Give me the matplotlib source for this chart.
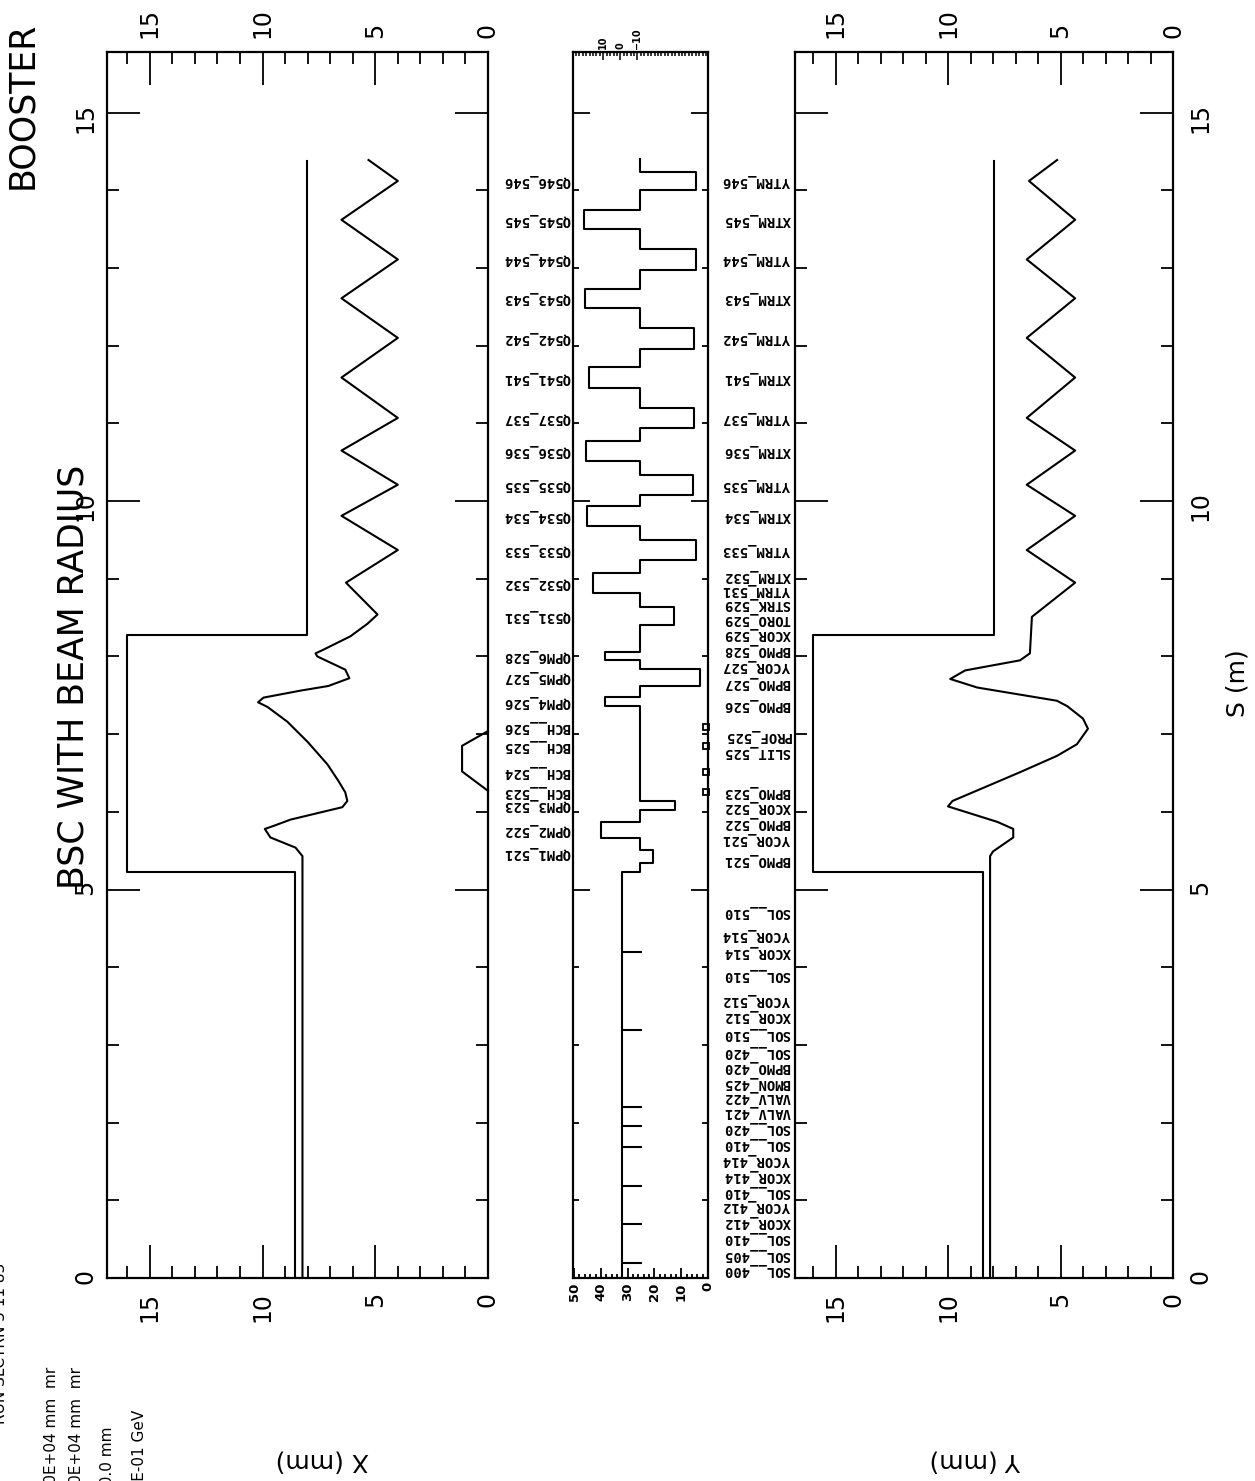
import matplotlib
matplotlib.use("Agg")
import matplotlib.pyplot as plt
from matplotlib.ticker import MultipleLocator, FixedLocator

W, H = 1255, 1481

# ---- data (S in m, sizes in mm) ----
# beam stay clear (aperture)
ap_s = [0.0, 5.22, 5.22, 8.27, 8.27, 14.38]
ap_x = [8.55, 8.55, 16.0, 16.0, 8.05, 8.05]
ap_y = [8.44, 8.44, 16.0, 16.0, 7.95, 7.95]

# beam radius in X
bx_s = [0.0, 5.43, 5.54, 5.67, 5.78, 5.82, 5.90, 6.06, 6.14, 6.25, 6.40, 6.61,
        6.90, 7.16, 7.35, 7.41, 7.47, 7.56, 7.62, 7.72, 7.83, 8.00, 8.04, 8.08,
        8.26, 8.42, 8.54, 8.95, 9.37, 9.81, 10.21, 10.65, 11.07, 11.59, 12.10,
        12.61, 13.11, 13.62, 14.12, 14.39]
bx_v = [8.23, 8.23, 8.54, 9.65, 9.90, 9.50, 8.76, 6.46, 6.24, 6.33, 6.64, 7.12,
        8.00, 8.90, 9.78, 10.2, 9.96, 8.32, 7.08, 6.15, 6.33, 7.57, 7.65, 7.35,
        6.10, 5.35, 4.90, 6.30, 4.00, 6.50, 4.00, 6.50, 4.00, 6.50, 4.00,
        6.50, 4.00, 6.50, 4.00, 5.30]

# beam radius in Y
by_s = [0.0, 5.43, 5.49, 5.67, 5.78, 5.87, 6.07, 6.14, 6.51, 6.72, 6.87, 7.07,
        7.20, 7.36, 7.43, 7.60, 7.71, 7.82, 7.95, 8.04, 8.51, 8.95, 9.37, 9.81,
        10.21, 10.65, 11.07, 11.59, 12.10, 12.61, 13.11, 13.62, 14.12, 14.39]
by_v = [8.13, 8.13, 8.00, 7.10, 7.10, 7.80, 10.0, 9.80, 6.80, 5.16, 4.27, 3.78,
        4.00, 4.70, 5.16, 8.70, 9.90, 9.24, 6.80, 6.36, 6.27, 4.35, 6.50, 4.35,
        6.50, 4.35, 6.50, 4.35, 6.50, 4.35, 6.50, 4.35, 6.40, 5.15]

# chicane orbit bump in X
orb_s = [6.27, 6.52, 6.85, 7.04]
orb_x = [0.0, 1.15, 1.15, 0.0]

# element profile in middle panel (edges along S, value of each interval)
el_edges = [0.0, 5.22, 5.34, 5.51, 5.66, 5.87, 6.03, 6.14, 7.36, 7.48, 7.62,
            7.84, 7.96, 8.06, 8.40, 8.64, 8.82, 9.07, 9.24, 9.50, 9.68, 9.94,
            10.08, 10.34, 10.52, 10.77, 10.94, 11.20, 11.46, 11.72, 11.96,
            12.23, 12.49, 12.73, 12.98, 13.24, 13.50, 13.75, 14.00, 14.24, 14.40]
el_vals = [32.1, 25.3, 20.4, 25.3, 39.9, 25.3, 12.4, 25.3, 38.5, 25.3, 3.0,
           25.3, 38.5, 25.3, 12.8, 25.3, 43.0, 25.3, 4.5, 25.3, 45.3, 25.3,
           5.7, 25.3, 45.7, 25.3, 5.3, 25.3, 44.3, 25.3, 5.3, 25.3, 46.0, 25.3,
           4.5, 25.3, 46.4, 25.3, 4.5, 25.3]
thin_s = [0.19, 0.70, 1.19, 1.69, 1.95, 2.20, 3.19, 4.20]
bch_s = [6.25, 6.51, 6.85, 7.09]

left_names = ["Q546_546", "Q545_545", "Q544_544", "Q543_543", "Q542_542",
              "Q541_541", "Q537_537", "Q536_536", "Q535_535", "Q534_534",
              "Q533_533", "Q532_532", "Q531_531", "QPM6_528", "QPM5_527",
              "QPM4_526", "BCH__526", "BCH__525", "BCH__524", "BCH__523",
              "QPM3_523", "QPM2_522", "QPM1_521"]
left_s = [14.12, 13.62, 13.11, 12.61, 12.10, 11.59, 11.07, 10.65, 10.21, 9.81,
          9.37, 8.95, 8.52, 8.01, 7.73, 7.42, 7.09, 6.85, 6.51, 6.25, 6.09,
          5.77, 5.47]

right_names = ["YTRM_546", "XTRM_545", "YTRM_544", "XTRM_543", "YTRM_542",
               "XTRM_541", "YTRM_537", "XTRM_536", "YTRM_535", "XTRM_534",
               "YTRM_533", "XTRM_532", "YTRM_531", "STRK_529", "TORO_529",
               "XCOR_529", "BPMO_528", "YCOR_527", "BPMO_527", "BPMO_526",
               "PROF_525", "SLIT_525", "BPMO_523", "XCOR_522", "BPMO_522",
               "YCOR_521", "BPMO_521",
               "SOL__510", "YCOR_514", "XCOR_514", "SOL__510", "YCOR_512",
               "XCOR_512", "SOL__510", "SOL__420", "BPMO_420", "BMON_425",
               "VALV_422", "VALV_421", "SOL__420", "SOL__410", "YCOR_414",
               "XCOR_414", "SOL__410", "YCOR_412", "XCOR_412", "SOL__410",
               "SOL__405", "SOL__400"]
right_s = [14.12, 13.62, 13.11, 12.61, 12.10, 11.59, 11.07, 10.65, 10.21, 9.81,
           9.37, 9.04, 8.86, 8.67, 8.48, 8.29, 8.08, 7.88, 7.66, 7.38,
           6.98, 6.77, 6.26, 6.06, 5.85, 5.65, 5.38,
           4.71, 4.41, 4.20, 3.90, 3.58, 3.37, 3.14, 2.91, 2.72, 2.51,
           2.33, 2.14, 1.93, 1.72, 1.52, 1.31, 1.11, 0.93, 0.72, 0.51,
           0.30, 0.10]

S_MAX = 15.78
LW = 1.5


def rect(x0, y0, x1, y1):
    return [x0 / W, 1 - y1 / H, (x1 - x0) / W, (y1 - y0) / H]


def ftext(x, y, s, **kw):
    fig.text(x / W, 1 - y / H, s, **kw)


fig = plt.figure(figsize=(W / 100, H / 100), dpi=100)

axL = fig.add_axes(rect(107, 52, 488, 1278))
axM = fig.add_axes(rect(573, 52, 708, 1278))
axR = fig.add_axes(rect(795, 52, 1173, 1278))

for ax, xmax in [(axL, 16.9), (axR, 16.8)]:
    ax.set_xlim(xmax, 0)
    ax.set_ylim(0, S_MAX)
    ax.xaxis.set_major_locator(MultipleLocator(5))
    ax.xaxis.set_minor_locator(MultipleLocator(1))
    ax.yaxis.set_major_locator(MultipleLocator(5))
    ax.yaxis.set_minor_locator(MultipleLocator(1))
    ax.tick_params(which="both", direction="in", top=True, bottom=True,
                   left=True, right=True, width=1.3, labelsize=17)
    ax.tick_params(which="major", length=24)
    ax.tick_params(which="minor", length=8.5)
    ax.tick_params(axis="x", labeltop=True, labelbottom=True,
                   labelrotation=90, pad=10)
    for sp in ax.spines.values():
        sp.set_linewidth(1.6)

axL.tick_params(axis="y", labelleft=True, labelright=False, labelrotation=90, pad=7)
axR.tick_params(axis="y", labelleft=False, labelright=True, labelrotation=90, pad=11)

axL.plot(ap_x, ap_s, color="black", lw=LW)
axL.plot(bx_v, bx_s, color="black", lw=LW)
axL.plot(orb_x, orb_s, color="black", lw=LW, clip_on=False)
axR.plot(ap_y, ap_s, color="black", lw=LW)
axR.plot(by_v, by_s, color="black", lw=LW)

# middle panel: element profile
axM.set_xlim(50.4, 0)
axM.set_ylim(0, S_MAX)
px, py = [], []
for i, v in enumerate(el_vals):
    px += [v, v]
    py += [el_edges[i], el_edges[i + 1]]
axM.plot(px, py, color="black", lw=LW)
axM.hlines(thin_s, 24.5, 32.1, color="black", lw=LW)
axM.plot([0.9] * len(bch_s), bch_s, "s", ms=5, mfc="white", mec="black",
         mew=1.3, clip_on=False)
axM.xaxis.set_major_locator(MultipleLocator(10))
axM.xaxis.set_minor_locator(MultipleLocator(2))
axM.yaxis.set_major_locator(MultipleLocator(5))
axM.yaxis.set_minor_locator(MultipleLocator(1))
axM.tick_params(which="both", direction="in", left=True, right=True,
                bottom=True, top=False, width=1.3)
axM.tick_params(axis="y", which="major", length=12, labelleft=False)
axM.tick_params(axis="y", which="minor", length=4)
axM.tick_params(axis="x", which="major", length=7, labelsize=9.5,
                labelrotation=90, pad=3)
axM.tick_params(axis="x", which="minor", length=3)
for lab in axM.get_xticklabels():
    lab.set_fontweight("bold")
for sp in axM.spines.values():
    sp.set_linewidth(1.6)

sec = axM.secondary_xaxis("top", functions=(lambda v: -51.2 + 1.565 * v,
                                             lambda t: (t + 51.2) / 1.565))
sec.xaxis.set_major_locator(FixedLocator([10, 0, -10]))
sec.xaxis.set_minor_locator(MultipleLocator(2))
sec.tick_params(which="both", direction="in", width=1.1, labelsize=7,
                labelrotation=90, pad=2)
sec.tick_params(which="major", length=6)
sec.tick_params(which="minor", length=3)
for lab in sec.get_xticklabels():
    lab.set_fontweight("bold")

# element names (drawn upside down, as on the rotated page)
lab_kw = dict(rotation=180, rotation_mode="anchor", ha="left", va="center",
              family="DejaVu Sans Mono", fontweight="bold", fontsize=10)
for name, s in zip(left_names, left_s):
    axM.text(-0.02, s, name, transform=axM.get_yaxis_transform(), **lab_kw)
for name, s in zip(right_names, right_s):
    axR.text(-0.012, s, name, transform=axR.get_yaxis_transform(), **lab_kw)

# page texts
ftext(74, 677, "BSC WITH BEAM RADIUS", rotation=90, ha="center", va="center",
      fontsize=25)
ftext(22, 105, "BOOSTER", rotation=90, ha="center", va="center", fontsize=25)
ftext(322, 1461, "X (mm)", rotation=180, ha="center", va="center", fontsize=18)
ftext(975, 1461, "Y (mm)", rotation=180, ha="center", va="center", fontsize=18)
ftext(1238, 683, "S (m)", rotation=90, ha="center", va="center", fontsize=18)

info_kw = dict(rotation=90, rotation_mode="anchor", ha="right", va="center",
               fontsize=11)
ftext(1, 1263, "RUN SLCTRN 5 11 83", **info_kw)
ftext(52, 1367, "EPSX = 1.000E+04 mm  mr", **info_kw)
ftext(77, 1367, "EPSY = 1.000E+04 mm  mr", **info_kw)
ftext(107, 1427, "DX = 0.0 mm", **info_kw)
ftext(139, 1410, "P = 1.190E-01 GeV", **info_kw)

fig.savefig("out.png", dpi=100)
